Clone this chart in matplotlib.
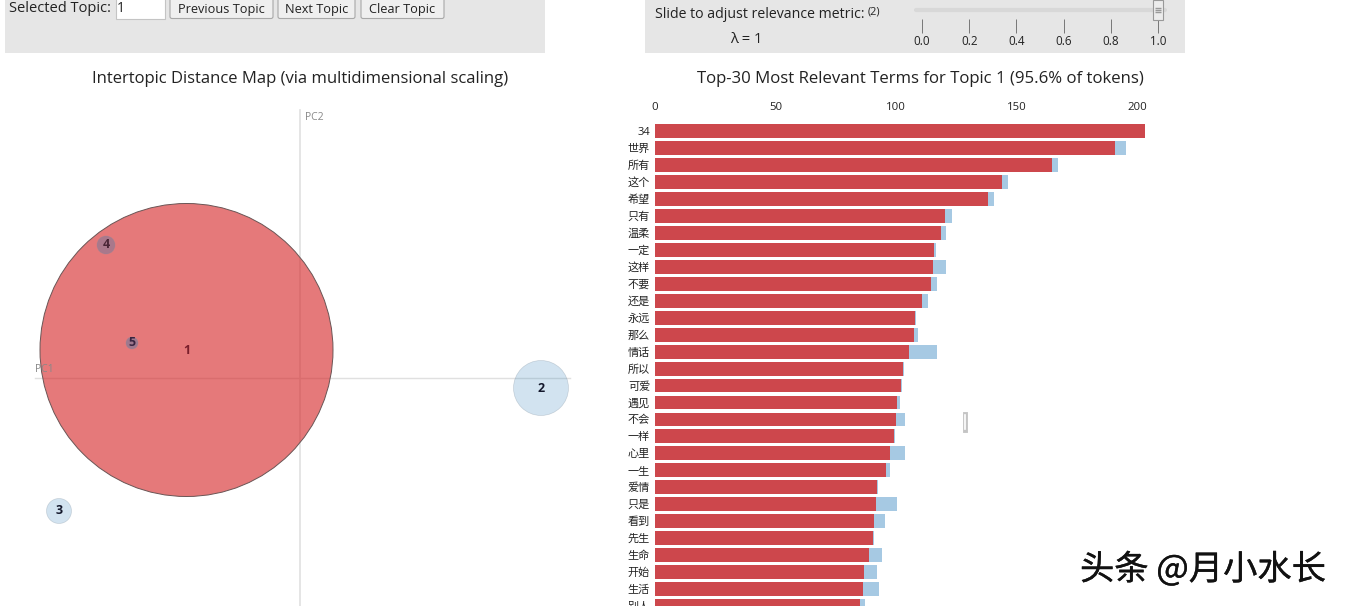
import matplotlib
matplotlib.use('Agg')
from matplotlib import pyplot as plt
from matplotlib.patches import Circle, Rectangle, FancyBboxPatch
import matplotlib.patheffects as pe

plt.rcParams['font.family'] = ['Open Sans', 'Noto Sans CJK SC', 'DejaVu Sans']

W = 1345
H = 606

#Left panel data, PC coordinates
topic_ids = ['1', '2', '3', '4', '5']
topic_pc1 = [-1.135, 2.41, -2.41, -1.94, -1.68]
topic_pc2 = [0.28, -0.10, -1.33, 1.33, 0.35]
topic_radius = [1.465, 0.275, 0.125, 0.09, 0.06]
topic_alpha = [0.62, 0.2, 0.2, 0.3, 0.35]
label_color = ['#7a1f2c', '#14182c', '#14182c', '#4a2636', '#3a2440']

#Right panel data
terms = ['34', '世界', '所有', '这个', '希望', '只有', '温柔', '一定', '这样', '不要',
         '还是', '永远', '那么', '情话', '所以', '可爱', '遇见', '不会', '一样', '心里',
         '一生', '爱情', '只是', '看到', '先生', '生命', '开始', '生活', '别人']
topic_freq = [203.3, 191.0, 164.7, 144.0, 138.0, 120.3, 118.7, 115.8, 115.4, 114.5,
              110.8, 107.9, 107.5, 105.4, 102.9, 101.9, 100.4, 100.0, 99.0, 97.5,
              95.9, 92.1, 91.7, 91.0, 90.5, 89.0, 86.7, 86.1, 85.0]
total_freq = [203.5, 195.4, 167.2, 146.5, 140.7, 123.2, 120.7, 116.6, 120.7, 117.0,
              113.3, 108.3, 109.0, 117.0, 103.5, 102.5, 101.5, 103.7, 99.4, 103.7,
              97.5, 92.5, 100.4, 95.4, 90.7, 94.2, 92.3, 93.0, 87.0]
bar_ticks = [0, 50, 100, 150, 200]
slider_ticks = [0.0, 0.2, 0.4, 0.6, 0.8, 1.0]
lambda_value = 1.0

RED = '#cd474c'
BLUE = '#a6c9e3'
GREY = '#e6e6e6'


def px_axes(left, top, right, bottom):
    return fig.add_axes([left / W, 1 - bottom / H, (right - left) / W, (bottom - top) / H])


fig = plt.figure(figsize=(W / 100, H / 100), dpi=100, facecolor='white')

#Page chrome in pixel coordinates
page = fig.add_axes([0, 0, 1, 1], zorder=0)
page.set_xlim(0, W)
page.set_ylim(H, 0)
page.axis('off')
page.add_patch(Rectangle((5, 0), 540, 52.5, fc=GREY, ec='none'))
page.add_patch(Rectangle((645, 0), 540, 52.5, fc=GREY, ec='none'))
page.text(9, 9, 'Selected Topic:', fontsize=10.5, color='#222222', va='center')
page.add_patch(Rectangle((115.5, -3), 49, 21.5, fc='white', ec='#c4c4c4', lw=0.8))
page.text(117, 9, '1', fontsize=10, color='#222222', va='center')
for bx, bw, label in [(170, 103, 'Previous Topic'), (278, 77, 'Next Topic'), (361, 83, 'Clear Topic')]:
    page.add_patch(FancyBboxPatch((bx, -4), bw, 22.5, boxstyle='round,pad=0,rounding_size=2',
                                  fc='#efefef', ec='#a8a8a8', lw=0.8))
    page.text(bx + bw / 2, 9, label, fontsize=9.2, color='#222222', ha='center', va='center')
page.text(655, 14, 'Slide to adjust relevance metric:', fontsize=10.15, color='#222222', va='center')
page.text(868, 12.5, '(2)', fontsize=7.8, color='#222222', va='center')
page.text(746, 39.5, 'λ = 1', fontsize=10.6, color='#222222', ha='center', va='center')
page.text(300, 79, 'Intertopic Distance Map (via multidimensional scaling)', fontsize=11.95,
          color='#222222', ha='center', va='center')
page.text(920, 79, 'Top-30 Most Relevant Terms for Topic 1 (95.6% of tokens)', fontsize=12.05,
          color='#222222', ha='center', va='center')

#Slider
sl = px_axes(922, 0, 1158, 33)
sl.set_xlim(0, 1)
sl.set_ylim(33, 0)
sl.patch.set_alpha(0)
for s in sl.spines.values():
    s.set_visible(False)
sl.set_yticks([])
sl.set_xticks(slider_ticks)
sl.set_xticklabels(['%.1f' % t for t in slider_ticks], fontsize=8.4, color='#222222')
sl.tick_params(axis='x', length=10, width=0.7, color='#777777', pad=1.5, direction='in')
sl.plot([-0.025, 1.03], [10, 10], color='#d8d8d8', lw=3, clip_on=False, solid_capstyle='round')
sl.add_patch(Rectangle((lambda_value - 0.02, 0), 0.04, 20, fc='#ececec', ec='#999999', lw=0.8, clip_on=False, zorder=4))
sl.plot([lambda_value] * 3, [8, 10, 12], marker='_', ms=5, color='#999999', lw=0, clip_on=False, zorder=5)

#Intertopic map, 100 px per PC unit
ax = px_axes(0, 100, 600, 606)
ax.set_xlim(-3, 3)
ax.set_ylim(-2.28, 2.78)
ax.axis('off')
ax.patch.set_alpha(0)
ax.plot([0, 0], [-2.28, 2.68], color='#e0e0e0', lw=1.2, zorder=1)
ax.plot([-2.65, 2.7], [0, 0], color='#e0e0e0', lw=1, zorder=1)
ax.text(0.05, 2.60, 'PC2', fontsize=7.5, color='#888888', va='center')
ax.text(-2.65, 0.09, 'PC1', fontsize=7.5, color='#888888', va='center')
for i in range(len(topic_ids)):
    if i == 0:
        ax.add_patch(Circle((topic_pc1[i], topic_pc2[i]), topic_radius[i], fc='#d62728', ec='none',
                            alpha=topic_alpha[i], zorder=2))
        ax.add_patch(Circle((topic_pc1[i], topic_pc2[i]), topic_radius[i], fc='none', ec='#6a5555', lw=0.7, zorder=3))
    else:
        ax.add_patch(Circle((topic_pc1[i], topic_pc2[i]), topic_radius[i], fc='#1f77b4', ec='none',
                            alpha=topic_alpha[i], zorder=3))
        ax.add_patch(Circle((topic_pc1[i], topic_pc2[i]), topic_radius[i], fc='none', ec='#7f8f9f', lw=0.5,
                            alpha=0.35, zorder=3))
    ax.text(topic_pc1[i], topic_pc2[i], topic_ids[i], fontsize=9, fontweight='bold', color=label_color[i],
            ha='center', va='center', zorder=4)

#Bar chart
n_rows = (606 - 131.2) / 17.05
bx = px_axes(655, 123, 1160, 606)
bx.set_xlim(0, 505 / 2.41)
bx.set_ylim(n_rows, -8.2 / 17.05)
bx.patch.set_alpha(0)
ypos = list(range(len(terms)))
bx.barh(ypos, total_freq, height=0.82, color=BLUE, zorder=2)
bx.barh(ypos, topic_freq, height=0.82, color=RED, zorder=3)
for s in bx.spines.values():
    s.set_visible(False)
bx.xaxis.tick_top()
bx.set_xticks(bar_ticks)
bx.set_xticklabels([str(t) for t in bar_ticks], fontsize=8.2, color='#222222')
bx.tick_params(axis='x', length=0, pad=7.5)
bx.set_yticks(ypos)
bx.set_yticklabels(terms, fontsize=8, color='#222222')
bx.tick_params(axis='y', length=0, pad=3.5)

#Text cursor left in the screenshot
page.plot([965, 965], [414, 430], color='#c4c4c4', lw=3.5, zorder=5)
page.plot([965, 965], [415, 429], color='white', lw=1.2, zorder=6)

#Watermark
fig.text(1080 / W, 1 - 570 / H, '头条 @月小水长', fontsize=24.7, color='#111111', va='center', ha='left',
         family=['Noto Sans CJK SC', 'DejaVu Sans'],
         path_effects=[pe.withStroke(linewidth=0.25, foreground='#111111')], zorder=10)

fig.savefig('out.png', dpi=100)
